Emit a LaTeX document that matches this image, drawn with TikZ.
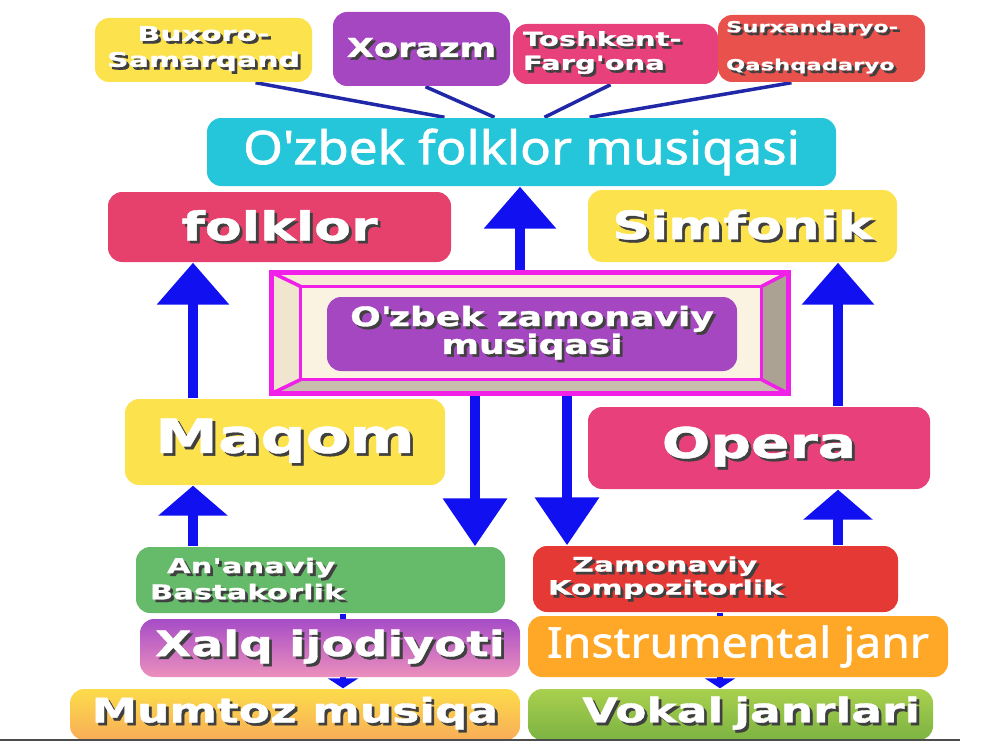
\documentclass[tikz,border=0pt]{standalone}
\usepackage{fontspec}
\newfontfamily\boldfam{DejaVu Sans}[FakeStretch=1.35,FakeBold=1.2]
\newfontfamily\widefam{DejaVu Sans}[FakeStretch=1.5,FakeBold=0.9]
\newfontfamily\plainfam{Noto Sans}[FakeStretch=1.1,FakeBold=1.4]
\usetikzlibrary{arrows.meta,backgrounds,calc}

\definecolor{cyellow}{HTML}{FCE24C}
\definecolor{cpurple}{HTML}{A547C0}
\definecolor{cpink}{HTML}{E8407A}
\definecolor{cred}{HTML}{E8514C}
\definecolor{ccyan}{HTML}{26C6DA}
\definecolor{cfolk}{HTML}{E6406C}
\definecolor{cgreen}{HTML}{66BB6A}
\definecolor{ckomp}{HTML}{E53935}
\definecolor{corange}{HTML}{FFA726}
\definecolor{cxalqtop}{HTML}{A64CC7}
\definecolor{cxalqbot}{HTML}{EC90BD}
\definecolor{cmumtop}{HTML}{FCDC4A}
\definecolor{cmumbot}{HTML}{F8AD58}
\definecolor{cvoktop}{HTML}{A9D04E}
\definecolor{cvokbot}{HTML}{7CB342}
\definecolor{carrow}{HTML}{1010F0}
\definecolor{cline}{HTML}{2028A8}
\definecolor{cmag}{HTML}{F020E8}
\definecolor{bevtop}{HTML}{F5EBD7}
\definecolor{bevleft}{HTML}{F0E5CF}
\definecolor{bevright}{HTML}{ABA293}
\definecolor{bevbot}{HTML}{C8BEAD}
\definecolor{bevin}{HTML}{FBF3E2}

% white text with a dark drop shadow
\newcommand\shd[1]{\makebox[0pt][l]{\hspace{0.8pt}\raisebox{-0.8pt}{\textcolor{black!75}{#1}}}#1}
\AtBeginDocument{\lineskiplimit=-20pt}

\begin{document}
\begin{tikzpicture}[
    box/.style={rounded corners=4pt, text=white, inner sep=0pt, align=center},
    fs/.style 2 args={font=\boldfam\bfseries\fontsize{#1}{#2}\selectfont},
    ws/.style 2 args={font=\widefam\bfseries\fontsize{#1}{#2}\selectfont},
    ps/.style={font=\plainfam\fontsize{#1}{#1}\selectfont},
    bigarrow/.style={carrow, line width=3pt, -{Triangle[width=0.7cm,length=0.42cm]}},
    smallarrow/.style={carrow, line width=3pt, -{Triangle[width=0.68cm,length=0.3cm]}},
    downarrow/.style={carrow, line width=3pt, -{Triangle[width=0.62cm,length=0.48cm]}},
    tinyarrow/.style={carrow, line width=1.5pt, -{Triangle[width=0.3cm,length=0.1cm]}},
    thinline/.style={cline, line width=1pt}
  ]
  \useasboundingbox (0,0) rectangle (10,7.5);

  % regions
  \node[box, fill=cyellow, minimum width=2.17cm, minimum height=0.64cm, ws={5.7}{7.4}] (bux) at (2.035,7.00) {\shd{Buxoro-}\\\shd{Samarqand}};
  \node[box, fill=cpurple, minimum width=1.77cm, minimum height=0.74cm, fs={7.4}{8}] (xor) at (4.215,7.01) {\shd{Xorazm}};
  \node[box, fill=cpink, minimum height=0.60cm, text width=1.85cm, inner xsep=0.1cm, align=left, ws={5.5}{6.8}] (tosh) at (6.155,6.96) {\shd{Toshkent-}\\\shd{Farg'ona}};
  \node[box, fill=cred, minimum height=0.67cm, text width=1.91cm, inner xsep=0.08cm, align=left, ws={4.3}{10.8}] (surx) at (8.215,7.015) {\shd{Surxandaryo-}\\\shd{Qashqadaryo}};

  % folklor musiqasi
  \node[box, fill=ccyan, minimum width=6.29cm, minimum height=0.68cm, ps=13.2] (folkmus) at (5.215,5.98) {O\textquotesingle zbek folklor musiqasi};
  \node[box, fill=cfolk, minimum width=3.43cm, minimum height=0.70cm, fs={11.3}{12}] (folklor) at (2.795,5.23) {\shd{folklor}};
  \node[box, fill=cyellow, minimum width=3.09cm, minimum height=0.72cm, fs={11.1}{12}] (simf) at (7.425,5.24) {\shd{Simfonik}};

  % central frame
  \node[fill=bevtop, minimum width=5.16cm, minimum height=1.2cm, inner sep=0pt] (frame) at (5.30,4.17) {};
  \coordinate (iNW) at ($(frame.north west)+(0.29,-0.14)$);
  \coordinate (iNE) at ($(frame.north east)+(-0.27,-0.14)$);
  \coordinate (iSW) at ($(frame.south west)+(0.29,0.14)$);
  \coordinate (iSE) at ($(frame.south east)+(-0.27,0.14)$);
  \fill[bevleft] (frame.north west) -- (iNW) -- (iSW) -- (frame.south west) -- cycle;
  \fill[bevright] (frame.north east) -- (iNE) -- (iSE) -- (frame.south east) -- cycle;
  \fill[bevbot] (frame.south west) -- (iSW) -- (iSE) -- (frame.south east) -- cycle;
  \draw[cmag, line width=1pt, fill=bevin] (iNW) rectangle (iSE);
  \draw[cmag, line width=1pt] (frame.north west) -- (iNW) (frame.north east) -- (iNE)
    (frame.south west) -- (iSW) (frame.south east) -- (iSE);
  \draw[cmag, line width=1.5pt] (frame.south west) rectangle (frame.north east);
  \node[box, fill=cpurple, minimum width=4.10cm, minimum height=0.74cm, fs={7.6}{7.9}] (zamon) at (5.32,4.16) {\shd{O\textquotesingle zbek zamonaviy}\\\shd{musiqasi}};

  % genres
  \node[box, fill=cyellow, minimum width=3.20cm, minimum height=0.86cm, fs={13.3}{14}] (maqom) at (2.85,3.08) {\shd{Maqom}};
  \node[box, fill=cpink, minimum width=3.42cm, minimum height=0.82cm, fs={12}{13}] (opera) at (7.59,3.02) {\shd{Opera}};

  % creators
  \node[box, fill=cgreen, minimum height=0.66cm, text width=3.41cm, inner xsep=0.14cm, align=left, ws={5.8}{6.3}] (anan) at (3.205,1.70) {\hspace*{0.17cm}\shd{An'anaviy}\\\shd{Bastakorlik}};
  \node[box, fill=ckomp, minimum height=0.66cm, text width=3.35cm, inner xsep=0.15cm, align=left, ws={5.7}{6.6}] (zamkomp) at (7.155,1.71) {\hspace*{0.24cm}\shd{Zamonaviy}\\\shd{Kompozitorlik}};

  \node[box, top color=cxalqtop, bottom color=cxalqbot, minimum width=3.80cm, minimum height=0.58cm, fs={9.9}{11}] (xalq) at (3.30,1.02) {\shd{Xalq ijodiyoti}};
  \node[box, fill=corange, minimum width=4.20cm, minimum height=0.61cm, ps=12] (instr) at (7.38,1.035) {Instrumental janr};
  \node[box, top color=cmumtop, bottom color=cmumbot, minimum width=4.50cm, minimum height=0.51cm, fs={9.6}{11}] (mumtoz) at (2.95,0.355) {\shd{Mumtoz musiqa}};
  \node[box, top color=cvoktop, bottom color=cvokbot, minimum height=0.51cm, text width=3.79cm, inner xsep=0.13cm, align=right, fs={9.6}{11}] (vokal) at (7.305,0.355) {\shd{Vokal janrlari}};

  \draw[black!70, line width=0.6pt] (0,0.10) -- (9.6,0.10);

  % connectors
  \coordinate (lx) at (1.93,0);
  \coordinate (rx) at (8.38,0);
  \coordinate (mx) at (5.20,0);
  \coordinate (d1) at (4.75,0);
  \coordinate (d2) at (5.67,0);
  \coordinate (t1) at (3.43,0);
  \coordinate (t2) at (7.20,0);
  \begin{pgfonlayer}{background}
    \draw[thinline] ([xshift=0.52cm]bux.south) -- ([xshift=-0.77cm]folkmus.north);
    \draw[thinline] ([xshift=0.04cm]xor.south) -- ([xshift=-0.27cm]folkmus.north);
    \draw[thinline] ([xshift=-0.05cm]tosh.south) -- ([xshift=0.23cm]folkmus.north);
    \draw[thinline] ([xshift=-0.30cm]surx.south) -- ([xshift=0.68cm]folkmus.north);
    \draw[bigarrow] (maqom.north -| lx) -- (folklor.south -| lx);
    \draw[smallarrow] (anan.north -| lx) -- (maqom.south -| lx);
    \draw[bigarrow] (opera.north -| rx) -- (simf.south -| rx);
    \draw[smallarrow] (zamkomp.north -| rx) -- (opera.south -| rx);
    \draw[bigarrow] (frame.north -| mx) -- (folkmus.south -| mx);
    \draw[downarrow] (frame.south -| d1) -- (anan.north -| d1);
    \draw[downarrow] (frame.south -| d2) -- (zamkomp.north -| d2);
    \draw[tinyarrow] (anan.south -| t1) -- (mumtoz.north -| t1);
    \draw[tinyarrow] (zamkomp.south -| t2) -- (vokal.north -| t2);
  \end{pgfonlayer}
\end{tikzpicture}
\end{document}
